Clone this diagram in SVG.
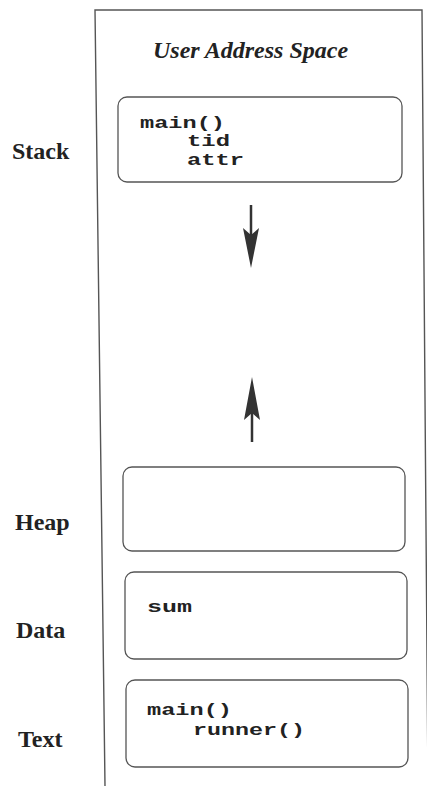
<svg xmlns="http://www.w3.org/2000/svg" width="427" height="786" viewBox="0 0 427 786">
<style>
.frame{fill:none;stroke:#555;stroke-width:1.4}
.box{fill:#fff;stroke:#555;stroke-width:1.3}
.lbl{font-family:"Liberation Serif",serif;font-weight:bold;font-size:24px;fill:#222}
.code{font-family:"Liberation Mono",monospace;font-weight:bold;font-size:16.5px;fill:#222}
.title{font-family:"Liberation Serif",serif;font-weight:bold;font-style:italic;font-size:24px;fill:#222}
.arrow{stroke:#333;stroke-width:2.5;fill:none}
</style>
<rect width="427" height="786" fill="#fff"/>
<g id="frame">
<path class="frame" d="M105,786 L95,10 L422,10 L428,786"/>
<text class="title" x="153" y="58">User Address Space</text>
</g>
<g id="stack">
<rect class="box" x="118" y="97" width="284" height="85" rx="9"/>
<text class="code" x="140" y="128" textLength="85" lengthAdjust="spacingAndGlyphs">main()</text>
<text class="code" x="187" y="146" textLength="43" lengthAdjust="spacingAndGlyphs">tid</text>
<text class="code" x="187" y="165" textLength="57" lengthAdjust="spacingAndGlyphs">attr</text>
<text class="lbl" x="12" y="159">Stack</text>
</g>
<g id="heap">
<rect class="box" x="123" y="467" width="282" height="84" rx="9"/>
<text class="lbl" x="15" y="530">Heap</text>
</g>
<g id="data">
<rect class="box" x="125" y="572" width="282" height="87" rx="9"/>
<text class="code" x="147" y="612" textLength="45" lengthAdjust="spacingAndGlyphs">sum</text>
<text class="lbl" x="16" y="638">Data</text>
</g>
<g id="text">
<rect class="box" x="126" y="680" width="282" height="87" rx="9"/>
<text class="code" x="147" y="715" textLength="85" lengthAdjust="spacingAndGlyphs">main()</text>
<text class="code" x="193" y="735" textLength="112" lengthAdjust="spacingAndGlyphs">runner()</text>
<text class="lbl" x="18" y="747">Text</text>
</g>
<g id="connectors">
<line class="arrow" x1="251" y1="205" x2="251" y2="240"/>
<path d="M251,268 L243,228 L251,235 L259,228 Z" fill="#333"/>
<line class="arrow" x1="252" y1="442" x2="252" y2="405"/>
<path d="M252,377 L244,420 L252,413 L260,420 Z" fill="#333"/>
</g>
</svg>
